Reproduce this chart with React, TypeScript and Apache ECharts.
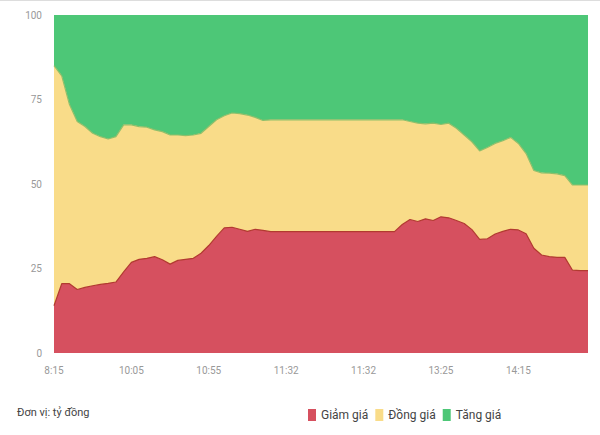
import React, { useEffect, useRef } from "react";
import * as echarts from "echarts";

const tickLabels = ["8:15", "10:05", "10:55", "11:32", "11:32", "13:25", "14:15"];
const tickEvery = 10;

const seriesNames = ["Giảm giá", "Đồng giá", "Tăng giá"];

const giamGia = [
  14, 20.5, 20.5, 18.8, 19.4, 19.9, 20.3, 20.6, 21, 24,
  26.8, 27.7, 28, 28.5, 27.6, 26.3, 27.4, 27.7, 28, 29.5,
  31.8, 34.5, 37, 37.2, 36.6, 36, 36.6, 36.3, 35.9, 35.9,
  35.9, 35.9, 35.9, 35.9, 35.9, 35.9, 35.9, 35.9, 35.9, 35.9,
  35.9, 35.9, 35.9, 35.9, 35.9, 38, 39.5, 38.9, 39.7, 39.2,
  40.3, 40, 39.2, 38.3, 36.5, 33.6, 33.8, 35.2, 36, 36.6,
  36.4, 35.3, 31, 29, 28.5, 28.3, 28.3, 24.5, 24.4, 24.4,
];

const dongGia = [
  71, 61.5, 53, 49.7, 47.6, 45.1, 43.7, 42.7, 43, 43.5,
  40.7, 39.3, 38.8, 37.5, 37.9, 38.2, 37.1, 36.6, 36.5, 35.5,
  35.2, 34.5, 33.2, 33.8, 34.2, 34.4, 33.1, 32.5, 33.1, 33.1,
  33.1, 33.1, 33.1, 33.1, 33.1, 33.1, 33.1, 33.1, 33.1, 33.1,
  33.1, 33.1, 33.1, 33.1, 33.1, 31, 29, 29.1, 28.1, 28.8,
  27.3, 28, 27.3, 26.2, 26, 26.2, 27, 26.8, 26.8, 27.2,
  25.6, 23.7, 23, 24.3, 24.7, 24.7, 24.2, 25.2, 25.3, 25.3,
];

const tangGia = [
  15, 18, 26.5, 31.5, 33, 35, 36, 36.7, 36, 32.5,
  32.5, 33, 33.2, 34, 34.5, 35.5, 35.5, 35.7, 35.5, 35,
  33, 31, 29.8, 29, 29.2, 29.6, 30.3, 31.2, 31, 31,
  31, 31, 31, 31, 31, 31, 31, 31, 31, 31,
  31, 31, 31, 31, 31, 31, 31.5, 32, 32.2, 32,
  32.4, 32, 33.5, 35.5, 37.5, 40.2, 39.2, 38, 37.2, 36.2,
  38, 41, 46, 46.7, 46.8, 47, 47.5, 50.3, 50.3, 50.3,
];

const yTicks = { min: 0, max: 100, interval: 25 };

export default function App() {
  const ref = useRef<HTMLDivElement>(null);

  useEffect(() => {
    if (!ref.current) return;
    const chart = echarts.init(ref.current, undefined, { renderer: "svg" });
    const categories = giamGia.map((_, i) => String(i));
    const font = "Roboto, 'Noto Sans', sans-serif";
    const colors = ["#d6505f", "#f9dc89", "#4dc777"];
    const lineColors = ["#b23a30", "#8fbf6a", "#4dc777"];
    const values = [giamGia, dongGia, tangGia];

    chart.setOption({
      animation: false,
      backgroundColor: "#ffffff",
      color: colors,
      grid: { left: 54, right: 12, top: 15, bottom: 82, containLabel: false },
      legend: {
        data: seriesNames,
        left: 303,
        top: 404,
        itemWidth: 8,
        itemHeight: 12,
        itemGap: 7,
        icon: "rect",
        textStyle: { fontSize: 12, color: "#444", fontFamily: font },
      },
      xAxis: {
        type: "category",
        boundaryGap: false,
        data: categories,
        axisLine: { show: false },
        axisTick: { show: false },
        splitLine: { show: false },
        axisLabel: {
          interval: tickEvery - 1,
          margin: 12,
          color: "#999",
          fontSize: 10,
          fontFamily: font,
          formatter: (_v: string, idx: number) =>
            idx % tickEvery === 0 ? tickLabels[idx / tickEvery] ?? "" : "",
        },
      },
      yAxis: {
        type: "value",
        min: yTicks.min,
        max: yTicks.max,
        interval: yTicks.interval,
        axisLine: { show: false },
        axisTick: { show: false },
        splitLine: { show: false },
        axisLabel: { margin: 12, color: "#999", fontSize: 10, fontFamily: font },
      },
      graphic: [
        {
          type: "text",
          left: 17,
          top: 407,
          style: {
            text: "Đơn vị: tỷ đồng",
            fontSize: 11,
            fill: "#444",
            fontFamily: font,
          },
        },
        {
          type: "line",
          shape: { x1: 0, y1: 0.5, x2: 600, y2: 0.5 },
          style: { stroke: "#dddddd", lineWidth: 1 },
        },
      ],
      series: seriesNames.map((name, k) => ({
        name,
        type: "line",
        stack: "total",
        data: values[k],
        symbol: "none",
        showSymbol: false,
        smooth: false,
        lineStyle: { width: k === 2 ? 0 : 1.2, color: lineColors[k] },
        itemStyle: { color: colors[k] },
        areaStyle: { color: colors[k], opacity: 1 },
        z: 2 + (2 - k),
      })),
    });

    return () => chart.dispose();
  }, []);

  return (
    <div
      ref={ref}
      style={{ position: "absolute", left: 0, top: 0, width: 600, height: 435 }}
    />
  );
}
